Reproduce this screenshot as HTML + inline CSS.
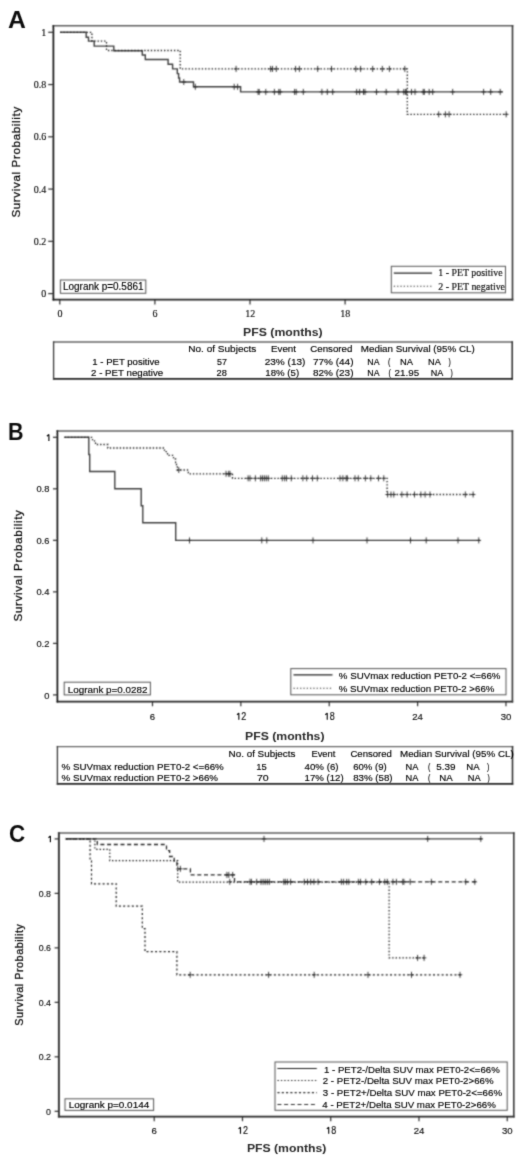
<!DOCTYPE html>
<html><head><meta charset="utf-8"><title>Kaplan-Meier survival curves</title>
<style>
html,body{margin:0;padding:0;background:#fff;}
body{width:520px;height:1164px;overflow:hidden;font-family:"Liberation Sans", sans-serif;}
svg{display:block;}
#fig{width:520px;height:1164px;}
text.t{stroke:#000;stroke-width:0.15px;}
text.h{stroke:#222;stroke-width:0.3px;}
text.b{stroke:none;}
</style></head>
<body>
<div id="fig"><svg xmlns="http://www.w3.org/2000/svg" width="520" height="1164" viewBox="0 0 520 1164">
<defs><filter id="bl" x="0" y="0" width="520" height="1164" filterUnits="userSpaceOnUse"><feConvolveMatrix order="3" kernelMatrix="1 3 1 3 9 3 1 3 1" divisor="25.0" edgeMode="duplicate" preserveAlpha="false"/></filter>
<filter id="bt" x="0" y="0" width="520" height="1164" filterUnits="userSpaceOnUse"><feConvolveMatrix order="3" kernelMatrix="1 6 1 6 36 6 1 6 1" divisor="64.0" edgeMode="duplicate" preserveAlpha="false"/></filter></defs>
<rect x="0" y="0" width="520" height="1164" fill="#fff"/>
<g filter="url(#bl)">
<line x1="52.6" y1="25.8" x2="513.3" y2="25.8" stroke="#606060" stroke-width="1.5"/>
<line x1="52.6" y1="299.6" x2="513.3" y2="299.6" stroke="#262626" stroke-width="1.9"/>
<line x1="53.4" y1="25.05" x2="53.4" y2="300.55" stroke="#111" stroke-width="1.6"/>
<line x1="512.5" y1="25.05" x2="512.5" y2="300.55" stroke="#3a3a3a" stroke-width="1.6"/>
<line x1="48.2" y1="32.3" x2="53.4" y2="32.3" stroke="#2e2e2e" stroke-width="1.2"/>
<line x1="48.2" y1="84.56" x2="53.4" y2="84.56" stroke="#2e2e2e" stroke-width="1.2"/>
<line x1="48.2" y1="136.82" x2="53.4" y2="136.82" stroke="#2e2e2e" stroke-width="1.2"/>
<line x1="48.2" y1="189.07999999999998" x2="53.4" y2="189.07999999999998" stroke="#2e2e2e" stroke-width="1.2"/>
<line x1="48.2" y1="241.33999999999997" x2="53.4" y2="241.33999999999997" stroke="#2e2e2e" stroke-width="1.2"/>
<line x1="48.2" y1="293.6" x2="53.4" y2="293.6" stroke="#2e2e2e" stroke-width="1.2"/>
<line x1="59.8" y1="299.4" x2="59.8" y2="304.4" stroke="#2e2e2e" stroke-width="1.2"/>
<line x1="154.89999999999998" y1="299.4" x2="154.89999999999998" y2="304.4" stroke="#2e2e2e" stroke-width="1.2"/>
<line x1="250.0" y1="299.4" x2="250.0" y2="304.4" stroke="#2e2e2e" stroke-width="1.2"/>
<line x1="345.09999999999997" y1="299.4" x2="345.09999999999997" y2="304.4" stroke="#2e2e2e" stroke-width="1.2"/>
<rect x="60.4" y="280.0" width="85.40" height="13.30" fill="none" stroke="#555" stroke-width="1.0"/>
<rect x="391.3" y="266.3" width="114.20" height="26.50" fill="none" stroke="#555" stroke-width="1.0"/>
<line x1="393.8" y1="273.2" x2="432.0" y2="273.2" stroke="#222" stroke-width="1.2"/>
<line x1="393.8" y1="286.2" x2="432.0" y2="286.2" stroke="#333" stroke-width="1.1" stroke-dasharray="1.3,2.0"/>
<path d="M60.1,32.3 L86.2,32.3 L86.2,37.2 L88.5,37.2 L88.5,41.1 L94.2,41.1 L94.2,46.1 L113.8,46.1 L113.8,50.7 L142.3,50.7 L142.3,55.0 L145.3,55.0 L145.3,59.5 L168.1,59.5 L168.1,64.2 L172.6,64.2 L172.6,68.9 L177.3,68.9 L177.3,73.6 L178.6,73.6 L178.6,78.0 L179.6,78.0 L179.6,82.0 L193.5,82.0 L193.5,86.8 L240.6,86.8 L240.6,91.9 L502.9,91.9" fill="none" stroke="#404040" stroke-width="1.4" stroke-linejoin="miter" stroke-linecap="butt"/>
<path d="M183.8,79.0 V85.0 M181.5,82.0 H186.1" stroke="#2a2a2a" stroke-width="0.9" fill="none"/>
<path d="M195.3,83.8 V89.8 M193.0,86.8 H197.6" stroke="#2a2a2a" stroke-width="0.9" fill="none"/>
<path d="M234.2,83.8 V89.8 M231.9,86.8 H236.5" stroke="#2a2a2a" stroke-width="0.9" fill="none"/>
<path d="M237.6,83.8 V89.8 M235.3,86.8 H239.9" stroke="#2a2a2a" stroke-width="0.9" fill="none"/>
<path d="M258.1,88.9 V94.9 M255.8,91.9 H260.4" stroke="#2a2a2a" stroke-width="0.9" fill="none"/>
<path d="M259.2,88.9 V94.9 M256.9,91.9 H261.5" stroke="#2a2a2a" stroke-width="0.9" fill="none"/>
<path d="M265.8,88.9 V94.9 M263.5,91.9 H268.1" stroke="#2a2a2a" stroke-width="0.9" fill="none"/>
<path d="M274.4,88.9 V94.9 M272.1,91.9 H276.7" stroke="#2a2a2a" stroke-width="0.9" fill="none"/>
<path d="M278.8,88.9 V94.9 M276.5,91.9 H281.1" stroke="#2a2a2a" stroke-width="0.9" fill="none"/>
<path d="M280.2,88.9 V94.9 M277.9,91.9 H282.5" stroke="#2a2a2a" stroke-width="0.9" fill="none"/>
<path d="M294.6,88.9 V94.9 M292.3,91.9 H296.9" stroke="#2a2a2a" stroke-width="0.9" fill="none"/>
<path d="M296.2,88.9 V94.9 M293.9,91.9 H298.5" stroke="#2a2a2a" stroke-width="0.9" fill="none"/>
<path d="M303.3,88.9 V94.9 M301.0,91.9 H305.6" stroke="#2a2a2a" stroke-width="0.9" fill="none"/>
<path d="M321.9,88.9 V94.9 M319.6,91.9 H324.2" stroke="#2a2a2a" stroke-width="0.9" fill="none"/>
<path d="M327.3,88.9 V94.9 M325.0,91.9 H329.6" stroke="#2a2a2a" stroke-width="0.9" fill="none"/>
<path d="M332.7,88.9 V94.9 M330.4,91.9 H335.0" stroke="#2a2a2a" stroke-width="0.9" fill="none"/>
<path d="M356.7,88.9 V94.9 M354.4,91.9 H359.0" stroke="#2a2a2a" stroke-width="0.9" fill="none"/>
<path d="M359.6,88.9 V94.9 M357.3,91.9 H361.9" stroke="#2a2a2a" stroke-width="0.9" fill="none"/>
<path d="M363.5,88.9 V94.9 M361.2,91.9 H365.8" stroke="#2a2a2a" stroke-width="0.9" fill="none"/>
<path d="M365.0,88.9 V94.9 M362.7,91.9 H367.3" stroke="#2a2a2a" stroke-width="0.9" fill="none"/>
<path d="M376.5,88.9 V94.9 M374.2,91.9 H378.8" stroke="#2a2a2a" stroke-width="0.9" fill="none"/>
<path d="M386.2,88.9 V94.9 M383.9,91.9 H388.5" stroke="#2a2a2a" stroke-width="0.9" fill="none"/>
<path d="M398.1,88.9 V94.9 M395.8,91.9 H400.4" stroke="#2a2a2a" stroke-width="0.9" fill="none"/>
<path d="M403.8,88.9 V94.9 M401.5,91.9 H406.1" stroke="#2a2a2a" stroke-width="0.9" fill="none"/>
<path d="M405.4,88.9 V94.9 M403.1,91.9 H407.7" stroke="#2a2a2a" stroke-width="0.9" fill="none"/>
<path d="M406.7,88.9 V94.9 M404.4,91.9 H409.0" stroke="#2a2a2a" stroke-width="0.9" fill="none"/>
<path d="M411.5,88.9 V94.9 M409.2,91.9 H413.8" stroke="#2a2a2a" stroke-width="0.9" fill="none"/>
<path d="M415.0,88.9 V94.9 M412.7,91.9 H417.3" stroke="#2a2a2a" stroke-width="0.9" fill="none"/>
<path d="M423.2,88.9 V94.9 M420.9,91.9 H425.5" stroke="#2a2a2a" stroke-width="0.9" fill="none"/>
<path d="M424.3,88.9 V94.9 M422.0,91.9 H426.6" stroke="#2a2a2a" stroke-width="0.9" fill="none"/>
<path d="M429.2,88.9 V94.9 M426.9,91.9 H431.5" stroke="#2a2a2a" stroke-width="0.9" fill="none"/>
<path d="M432.7,88.9 V94.9 M430.4,91.9 H435.0" stroke="#2a2a2a" stroke-width="0.9" fill="none"/>
<path d="M452.7,88.9 V94.9 M450.4,91.9 H455.0" stroke="#2a2a2a" stroke-width="0.9" fill="none"/>
<path d="M483.6,88.9 V94.9 M481.3,91.9 H485.9" stroke="#2a2a2a" stroke-width="0.9" fill="none"/>
<path d="M490.7,88.9 V94.9 M488.4,91.9 H493.0" stroke="#2a2a2a" stroke-width="0.9" fill="none"/>
<path d="M500.2,88.9 V94.9 M497.9,91.9 H502.5" stroke="#2a2a2a" stroke-width="0.9" fill="none"/>
<path d="M60.1,32.3 L91.9,32.3 L91.9,41.1 L106.5,41.1 L106.5,50.5 L180.2,50.5 L180.2,68.9 L407.3,68.9 L407.3,114.3 L507.3,114.3" fill="none" stroke="#222" stroke-width="1.3" stroke-dasharray="1.4,1.9" stroke-linejoin="miter" stroke-linecap="butt"/>
<path d="M236.1,65.9 V71.9 M233.8,68.9 H238.4" stroke="#2a2a2a" stroke-width="0.9" fill="none"/>
<path d="M270.6,65.9 V71.9 M268.3,68.9 H272.9" stroke="#2a2a2a" stroke-width="0.9" fill="none"/>
<path d="M272.5,65.9 V71.9 M270.2,68.9 H274.8" stroke="#2a2a2a" stroke-width="0.9" fill="none"/>
<path d="M276.3,65.9 V71.9 M274.0,68.9 H278.6" stroke="#2a2a2a" stroke-width="0.9" fill="none"/>
<path d="M295.6,65.9 V71.9 M293.3,68.9 H297.9" stroke="#2a2a2a" stroke-width="0.9" fill="none"/>
<path d="M299.4,65.9 V71.9 M297.1,68.9 H301.7" stroke="#2a2a2a" stroke-width="0.9" fill="none"/>
<path d="M317.7,65.9 V71.9 M315.4,68.9 H320.0" stroke="#2a2a2a" stroke-width="0.9" fill="none"/>
<path d="M331.5,65.9 V71.9 M329.2,68.9 H333.8" stroke="#2a2a2a" stroke-width="0.9" fill="none"/>
<path d="M355.8,65.9 V71.9 M353.5,68.9 H358.1" stroke="#2a2a2a" stroke-width="0.9" fill="none"/>
<path d="M360.6,65.9 V71.9 M358.3,68.9 H362.9" stroke="#2a2a2a" stroke-width="0.9" fill="none"/>
<path d="M372.7,65.9 V71.9 M370.4,68.9 H375.0" stroke="#2a2a2a" stroke-width="0.9" fill="none"/>
<path d="M382.3,65.9 V71.9 M380.0,68.9 H384.6" stroke="#2a2a2a" stroke-width="0.9" fill="none"/>
<path d="M389.4,65.9 V71.9 M387.1,68.9 H391.7" stroke="#2a2a2a" stroke-width="0.9" fill="none"/>
<path d="M404.8,65.9 V71.9 M402.5,68.9 H407.1" stroke="#2a2a2a" stroke-width="0.9" fill="none"/>
<path d="M438.7,111.3 V117.3 M436.4,114.3 H441.0" stroke="#2a2a2a" stroke-width="0.9" fill="none"/>
<path d="M445.4,111.3 V117.3 M443.1,114.3 H447.7" stroke="#2a2a2a" stroke-width="0.9" fill="none"/>
<path d="M449.1,111.3 V117.3 M446.8,114.3 H451.4" stroke="#2a2a2a" stroke-width="0.9" fill="none"/>
<path d="M506.2,111.3 V117.3 M503.9,114.3 H508.5" stroke="#2a2a2a" stroke-width="0.9" fill="none"/>
<line x1="52.95" y1="342.0" x2="512.95" y2="342.0" stroke="#666" stroke-width="1.3"/>
<line x1="52.95" y1="378.9" x2="512.95" y2="378.9" stroke="#222" stroke-width="1.6"/>
<line x1="53.6" y1="341.35" x2="53.6" y2="379.7" stroke="#3a3a3a" stroke-width="1.3"/>
<line x1="512.2" y1="341.35" x2="512.2" y2="379.7" stroke="#2a2a2a" stroke-width="1.5"/>
<line x1="56.6" y1="430.9" x2="513.1999999999999" y2="430.9" stroke="#606060" stroke-width="1.5"/>
<line x1="56.6" y1="701.6" x2="513.1999999999999" y2="701.6" stroke="#262626" stroke-width="1.9"/>
<line x1="57.4" y1="430.15" x2="57.4" y2="702.5500000000001" stroke="#111" stroke-width="1.6"/>
<line x1="512.4" y1="430.15" x2="512.4" y2="702.5500000000001" stroke="#3a3a3a" stroke-width="1.6"/>
<line x1="53.0" y1="437.3" x2="57.5" y2="437.3" stroke="#2e2e2e" stroke-width="1.2"/>
<line x1="53.0" y1="488.82" x2="57.5" y2="488.82" stroke="#2e2e2e" stroke-width="1.2"/>
<line x1="53.0" y1="540.34" x2="57.5" y2="540.34" stroke="#2e2e2e" stroke-width="1.2"/>
<line x1="53.0" y1="591.86" x2="57.5" y2="591.86" stroke="#2e2e2e" stroke-width="1.2"/>
<line x1="53.0" y1="643.38" x2="57.5" y2="643.38" stroke="#2e2e2e" stroke-width="1.2"/>
<line x1="53.0" y1="694.9000000000001" x2="57.5" y2="694.9000000000001" stroke="#2e2e2e" stroke-width="1.2"/>
<line x1="152.475" y1="701.5" x2="152.475" y2="706.3" stroke="#2e2e2e" stroke-width="1.2"/>
<line x1="240.85" y1="701.5" x2="240.85" y2="706.3" stroke="#2e2e2e" stroke-width="1.2"/>
<line x1="329.225" y1="701.5" x2="329.225" y2="706.3" stroke="#2e2e2e" stroke-width="1.2"/>
<line x1="417.6" y1="701.5" x2="417.6" y2="706.3" stroke="#2e2e2e" stroke-width="1.2"/>
<line x1="505.975" y1="701.5" x2="505.975" y2="706.3" stroke="#2e2e2e" stroke-width="1.2"/>
<rect x="64.2" y="682.2" width="86.20" height="12.70" fill="none" stroke="#555" stroke-width="1.0"/>
<rect x="290.8" y="668.6" width="215.20" height="26.20" fill="none" stroke="#555" stroke-width="1.0"/>
<line x1="293.5" y1="674.9" x2="332.5" y2="674.9" stroke="#222" stroke-width="1.2"/>
<line x1="293.5" y1="688.2" x2="332.5" y2="688.2" stroke="#333" stroke-width="1.1" stroke-dasharray="1.3,2.0"/>
<path d="M64.4,437.3 L88.8,437.3 L88.8,454.5 L89.7,454.5 L89.7,471.5 L114.8,471.5 L114.8,488.8 L141.2,488.8 L141.2,505.8 L142.8,505.8 L142.8,522.7 L175.7,522.7 L175.7,540.4 L480.0,540.4" fill="none" stroke="#404040" stroke-width="1.4" stroke-linejoin="miter" stroke-linecap="butt"/>
<path d="M189.5,537.4 V543.4 M187.2,540.4 H191.8" stroke="#2a2a2a" stroke-width="0.9" fill="none"/>
<path d="M261.8,537.4 V543.4 M259.4,540.4 H264.1" stroke="#2a2a2a" stroke-width="0.9" fill="none"/>
<path d="M266.8,537.4 V543.4 M264.4,540.4 H269.1" stroke="#2a2a2a" stroke-width="0.9" fill="none"/>
<path d="M313.0,537.4 V543.4 M310.7,540.4 H315.3" stroke="#2a2a2a" stroke-width="0.9" fill="none"/>
<path d="M367.0,537.4 V543.4 M364.7,540.4 H369.3" stroke="#2a2a2a" stroke-width="0.9" fill="none"/>
<path d="M410.5,537.4 V543.4 M408.2,540.4 H412.8" stroke="#2a2a2a" stroke-width="0.9" fill="none"/>
<path d="M426.2,537.4 V543.4 M423.9,540.4 H428.6" stroke="#2a2a2a" stroke-width="0.9" fill="none"/>
<path d="M458.0,537.4 V543.4 M455.7,540.4 H460.3" stroke="#2a2a2a" stroke-width="0.9" fill="none"/>
<path d="M478.8,537.4 V543.4 M476.4,540.4 H481.1" stroke="#2a2a2a" stroke-width="0.9" fill="none"/>
<path d="M64.4,437.3 L92.5,437.3 L92.5,440.9 L95.5,440.9 L95.5,444.5 L107.8,444.5 L107.8,448.0 L164.5,448.0 L164.5,451.7 L167.5,451.7 L167.5,455.3 L173.5,455.3 L173.5,459.0 L175.6,459.0 L175.6,462.7 L176.5,462.7 L176.5,466.3 L177.3,466.3 L177.3,470.0 L188.3,470.0 L188.3,473.8 L232.5,473.8 L232.5,478.3 L387.1,478.3 L387.1,494.5 L474.8,494.5" fill="none" stroke="#222" stroke-width="1.3" stroke-dasharray="1.4,1.9" stroke-linejoin="miter" stroke-linecap="butt"/>
<path d="M178.8,467.0 V473.0 M176.5,470.0 H181.1" stroke="#2a2a2a" stroke-width="0.9" fill="none"/>
<path d="M226.1,470.8 V476.8 M223.8,473.8 H228.4" stroke="#2a2a2a" stroke-width="0.9" fill="none"/>
<path d="M228.7,470.8 V476.8 M226.4,473.8 H231.0" stroke="#2a2a2a" stroke-width="0.9" fill="none"/>
<path d="M230.0,470.8 V476.8 M227.7,473.8 H232.3" stroke="#2a2a2a" stroke-width="0.9" fill="none"/>
<path d="M248.1,475.3 V481.3 M245.8,478.3 H250.4" stroke="#2a2a2a" stroke-width="0.9" fill="none"/>
<path d="M250.0,475.3 V481.3 M247.7,478.3 H252.3" stroke="#2a2a2a" stroke-width="0.9" fill="none"/>
<path d="M255.4,475.3 V481.3 M253.1,478.3 H257.7" stroke="#2a2a2a" stroke-width="0.9" fill="none"/>
<path d="M260.6,475.3 V481.3 M258.3,478.3 H262.9" stroke="#2a2a2a" stroke-width="0.9" fill="none"/>
<path d="M262.5,475.3 V481.3 M260.2,478.3 H264.8" stroke="#2a2a2a" stroke-width="0.9" fill="none"/>
<path d="M264.4,475.3 V481.3 M262.1,478.3 H266.7" stroke="#2a2a2a" stroke-width="0.9" fill="none"/>
<path d="M266.3,475.3 V481.3 M264.0,478.3 H268.6" stroke="#2a2a2a" stroke-width="0.9" fill="none"/>
<path d="M268.3,475.3 V481.3 M266.0,478.3 H270.6" stroke="#2a2a2a" stroke-width="0.9" fill="none"/>
<path d="M282.3,475.3 V481.3 M280.0,478.3 H284.6" stroke="#2a2a2a" stroke-width="0.9" fill="none"/>
<path d="M284.6,475.3 V481.3 M282.3,478.3 H286.9" stroke="#2a2a2a" stroke-width="0.9" fill="none"/>
<path d="M286.5,475.3 V481.3 M284.2,478.3 H288.8" stroke="#2a2a2a" stroke-width="0.9" fill="none"/>
<path d="M291.3,475.3 V481.3 M289.0,478.3 H293.6" stroke="#2a2a2a" stroke-width="0.9" fill="none"/>
<path d="M302.9,475.3 V481.3 M300.6,478.3 H305.2" stroke="#2a2a2a" stroke-width="0.9" fill="none"/>
<path d="M306.7,475.3 V481.3 M304.4,478.3 H309.0" stroke="#2a2a2a" stroke-width="0.9" fill="none"/>
<path d="M312.5,475.3 V481.3 M310.2,478.3 H314.8" stroke="#2a2a2a" stroke-width="0.9" fill="none"/>
<path d="M317.3,475.3 V481.3 M315.0,478.3 H319.6" stroke="#2a2a2a" stroke-width="0.9" fill="none"/>
<path d="M340.0,475.3 V481.3 M337.7,478.3 H342.3" stroke="#2a2a2a" stroke-width="0.9" fill="none"/>
<path d="M342.9,475.3 V481.3 M340.6,478.3 H345.2" stroke="#2a2a2a" stroke-width="0.9" fill="none"/>
<path d="M346.2,475.3 V481.3 M343.9,478.3 H348.5" stroke="#2a2a2a" stroke-width="0.9" fill="none"/>
<path d="M347.3,475.3 V481.3 M345.0,478.3 H349.6" stroke="#2a2a2a" stroke-width="0.9" fill="none"/>
<path d="M355.0,475.3 V481.3 M352.7,478.3 H357.3" stroke="#2a2a2a" stroke-width="0.9" fill="none"/>
<path d="M358.3,475.3 V481.3 M356.0,478.3 H360.6" stroke="#2a2a2a" stroke-width="0.9" fill="none"/>
<path d="M365.4,475.3 V481.3 M363.1,478.3 H367.7" stroke="#2a2a2a" stroke-width="0.9" fill="none"/>
<path d="M370.8,475.3 V481.3 M368.5,478.3 H373.1" stroke="#2a2a2a" stroke-width="0.9" fill="none"/>
<path d="M378.5,475.3 V481.3 M376.2,478.3 H380.8" stroke="#2a2a2a" stroke-width="0.9" fill="none"/>
<path d="M383.8,475.3 V481.3 M381.5,478.3 H386.1" stroke="#2a2a2a" stroke-width="0.9" fill="none"/>
<path d="M387.7,491.5 V497.5 M385.4,494.5 H390.0" stroke="#2a2a2a" stroke-width="0.9" fill="none"/>
<path d="M391.0,491.5 V497.5 M388.7,494.5 H393.3" stroke="#2a2a2a" stroke-width="0.9" fill="none"/>
<path d="M393.8,491.5 V497.5 M391.5,494.5 H396.1" stroke="#2a2a2a" stroke-width="0.9" fill="none"/>
<path d="M401.9,491.5 V497.5 M399.6,494.5 H404.2" stroke="#2a2a2a" stroke-width="0.9" fill="none"/>
<path d="M407.1,491.5 V497.5 M404.8,494.5 H409.4" stroke="#2a2a2a" stroke-width="0.9" fill="none"/>
<path d="M414.5,491.5 V497.5 M412.2,494.5 H416.8" stroke="#2a2a2a" stroke-width="0.9" fill="none"/>
<path d="M420.9,491.5 V497.5 M418.6,494.5 H423.2" stroke="#2a2a2a" stroke-width="0.9" fill="none"/>
<path d="M425.1,491.5 V497.5 M422.8,494.5 H427.4" stroke="#2a2a2a" stroke-width="0.9" fill="none"/>
<path d="M430.0,491.5 V497.5 M427.7,494.5 H432.3" stroke="#2a2a2a" stroke-width="0.9" fill="none"/>
<path d="M465.3,491.5 V497.5 M463.0,494.5 H467.6" stroke="#2a2a2a" stroke-width="0.9" fill="none"/>
<path d="M473.1,491.5 V497.5 M470.8,494.5 H475.4" stroke="#2a2a2a" stroke-width="0.9" fill="none"/>
<line x1="56.75" y1="746.6" x2="513.25" y2="746.6" stroke="#666" stroke-width="1.3"/>
<line x1="56.75" y1="783.9" x2="513.25" y2="783.9" stroke="#222" stroke-width="1.6"/>
<line x1="57.4" y1="745.95" x2="57.4" y2="784.6999999999999" stroke="#3a3a3a" stroke-width="1.3"/>
<line x1="512.5" y1="745.95" x2="512.5" y2="784.6999999999999" stroke="#2a2a2a" stroke-width="1.5"/>
<line x1="57.9" y1="832.9" x2="514.5999999999999" y2="832.9" stroke="#606060" stroke-width="1.5"/>
<line x1="57.9" y1="1116.6" x2="514.5999999999999" y2="1116.6" stroke="#262626" stroke-width="1.9"/>
<line x1="58.9" y1="832.15" x2="58.9" y2="1117.55" stroke="#3a3a3a" stroke-width="2.0"/>
<line x1="513.8" y1="832.15" x2="513.8" y2="1117.55" stroke="#3a3a3a" stroke-width="1.6"/>
<line x1="54.6" y1="838.9" x2="58.8" y2="838.9" stroke="#2e2e2e" stroke-width="1.2"/>
<line x1="54.6" y1="893.38" x2="58.8" y2="893.38" stroke="#2e2e2e" stroke-width="1.2"/>
<line x1="54.6" y1="947.86" x2="58.8" y2="947.86" stroke="#2e2e2e" stroke-width="1.2"/>
<line x1="54.6" y1="1002.3399999999999" x2="58.8" y2="1002.3399999999999" stroke="#2e2e2e" stroke-width="1.2"/>
<line x1="54.6" y1="1056.82" x2="58.8" y2="1056.82" stroke="#2e2e2e" stroke-width="1.2"/>
<line x1="54.6" y1="1111.3" x2="58.8" y2="1111.3" stroke="#2e2e2e" stroke-width="1.2"/>
<line x1="154.21" y1="1116.5" x2="154.21" y2="1121.2" stroke="#2e2e2e" stroke-width="1.2"/>
<line x1="242.47000000000003" y1="1116.5" x2="242.47000000000003" y2="1121.2" stroke="#2e2e2e" stroke-width="1.2"/>
<line x1="330.73" y1="1116.5" x2="330.73" y2="1121.2" stroke="#2e2e2e" stroke-width="1.2"/>
<line x1="418.99" y1="1116.5" x2="418.99" y2="1121.2" stroke="#2e2e2e" stroke-width="1.2"/>
<line x1="507.25" y1="1116.5" x2="507.25" y2="1121.2" stroke="#2e2e2e" stroke-width="1.2"/>
<rect x="65.0" y="1098.8" width="88.60" height="11.60" fill="none" stroke="#555" stroke-width="1.0"/>
<rect x="275.0" y="1062.0" width="232.20" height="48.30" fill="none" stroke="#555" stroke-width="1.0"/>
<line x1="277.4" y1="1068.5" x2="316.8" y2="1068.5" stroke="#222" stroke-width="1.2"/>
<line x1="277.4" y1="1080.5" x2="316.8" y2="1080.5" stroke="#333" stroke-width="1.1" stroke-dasharray="1.5,1.9"/>
<line x1="277.4" y1="1092.6" x2="316.8" y2="1092.6" stroke="#333" stroke-width="1.1" stroke-dasharray="2.2,2.1"/>
<line x1="277.4" y1="1104.5" x2="316.8" y2="1104.5" stroke="#333" stroke-width="1.2" stroke-dasharray="4,2.7"/>
<path d="M65.8,838.9 L482.3,838.9" fill="none" stroke="#404040" stroke-width="1.4" stroke-linejoin="miter" stroke-linecap="butt"/>
<path d="M264.0,835.9 V841.9 M261.7,838.9 H266.3" stroke="#2a2a2a" stroke-width="0.9" fill="none"/>
<path d="M427.7,835.9 V841.9 M425.4,838.9 H430.0" stroke="#2a2a2a" stroke-width="0.9" fill="none"/>
<path d="M480.8,835.9 V841.9 M478.5,838.9 H483.1" stroke="#2a2a2a" stroke-width="0.9" fill="none"/>
<path d="M65.8,838.9 L90.1,838.9 L90.1,861.0 L91.5,861.0 L91.5,883.8 L116.2,883.8 L116.2,906.2 L142.3,906.2 L142.3,928.7 L145.0,928.7 L145.0,951.7 L176.9,951.7 L176.9,974.8 L461.8,974.8" fill="none" stroke="#222" stroke-width="1.2" stroke-dasharray="2.0,2.3" stroke-linejoin="miter" stroke-linecap="butt"/>
<path d="M190.2,971.8 V977.8 M187.9,974.8 H192.5" stroke="#2a2a2a" stroke-width="0.9" fill="none"/>
<path d="M268.6,971.8 V977.8 M266.3,974.8 H270.9" stroke="#2a2a2a" stroke-width="0.9" fill="none"/>
<path d="M314.2,971.8 V977.8 M311.9,974.8 H316.5" stroke="#2a2a2a" stroke-width="0.9" fill="none"/>
<path d="M368.0,971.8 V977.8 M365.7,974.8 H370.3" stroke="#2a2a2a" stroke-width="0.9" fill="none"/>
<path d="M411.5,971.8 V977.8 M409.2,974.8 H413.8" stroke="#2a2a2a" stroke-width="0.9" fill="none"/>
<path d="M460.0,971.8 V977.8 M457.7,974.8 H462.3" stroke="#2a2a2a" stroke-width="0.9" fill="none"/>
<path d="M65.8,838.9 L94.9,838.9 L94.9,849.3 L109.8,849.3 L109.8,860.7 L177.7,860.7 L177.7,882.2 L389.1,882.2 L389.1,957.9 L425.4,957.9" fill="none" stroke="#1a1a1a" stroke-width="1.2" stroke-dasharray="1.4,2.0" stroke-linejoin="miter" stroke-linecap="butt"/>
<path d="M417.6,954.9 V960.9 M415.3,957.9 H419.9" stroke="#2a2a2a" stroke-width="0.9" fill="none"/>
<path d="M424.1,954.9 V960.9 M421.8,957.9 H426.4" stroke="#2a2a2a" stroke-width="0.9" fill="none"/>
<path d="M65.8,838.9 L97.3,838.9 L97.3,844.5 L166.5,844.5 L166.5,850.7 L169.6,850.7 L169.6,856.5 L174.2,856.5 L174.2,862.2 L176.9,862.2 L176.9,868.8 L190.4,868.8 L190.4,874.9 L234.5,874.9 L234.5,881.8 L476.0,881.8" fill="none" stroke="#2a2a2a" stroke-width="1.3" stroke-dasharray="4,2.7" stroke-linejoin="miter" stroke-linecap="butt"/>
<path d="M180.4,865.8 V871.8 M178.1,868.8 H182.7" stroke="#2a2a2a" stroke-width="0.9" fill="none"/>
<path d="M226.9,871.9 V877.9 M224.6,874.9 H229.2" stroke="#2a2a2a" stroke-width="0.9" fill="none"/>
<path d="M228.8,871.9 V877.9 M226.5,874.9 H231.1" stroke="#2a2a2a" stroke-width="0.9" fill="none"/>
<path d="M232.7,871.9 V877.9 M230.4,874.9 H235.0" stroke="#2a2a2a" stroke-width="0.9" fill="none"/>
<path d="M229.8,878.8 V884.8 M227.5,881.8 H232.1" stroke="#2a2a2a" stroke-width="0.9" fill="none"/>
<path d="M250.0,878.8 V884.8 M247.7,881.8 H252.3" stroke="#2a2a2a" stroke-width="0.9" fill="none"/>
<path d="M251.4,878.8 V884.8 M249.1,881.8 H253.7" stroke="#2a2a2a" stroke-width="0.9" fill="none"/>
<path d="M256.7,878.8 V884.8 M254.4,881.8 H259.0" stroke="#2a2a2a" stroke-width="0.9" fill="none"/>
<path d="M261.0,878.8 V884.8 M258.7,881.8 H263.3" stroke="#2a2a2a" stroke-width="0.9" fill="none"/>
<path d="M263.1,878.8 V884.8 M260.8,881.8 H265.4" stroke="#2a2a2a" stroke-width="0.9" fill="none"/>
<path d="M265.2,878.8 V884.8 M262.9,881.8 H267.5" stroke="#2a2a2a" stroke-width="0.9" fill="none"/>
<path d="M267.3,878.8 V884.8 M265.0,881.8 H269.6" stroke="#2a2a2a" stroke-width="0.9" fill="none"/>
<path d="M269.4,878.8 V884.8 M267.1,881.8 H271.7" stroke="#2a2a2a" stroke-width="0.9" fill="none"/>
<path d="M283.8,878.8 V884.8 M281.5,881.8 H286.1" stroke="#2a2a2a" stroke-width="0.9" fill="none"/>
<path d="M285.3,878.8 V884.8 M283.0,881.8 H287.6" stroke="#2a2a2a" stroke-width="0.9" fill="none"/>
<path d="M287.4,878.8 V884.8 M285.1,881.8 H289.7" stroke="#2a2a2a" stroke-width="0.9" fill="none"/>
<path d="M290.6,878.8 V884.8 M288.3,881.8 H292.9" stroke="#2a2a2a" stroke-width="0.9" fill="none"/>
<path d="M304.3,878.8 V884.8 M302.0,881.8 H306.6" stroke="#2a2a2a" stroke-width="0.9" fill="none"/>
<path d="M307.5,878.8 V884.8 M305.2,881.8 H309.8" stroke="#2a2a2a" stroke-width="0.9" fill="none"/>
<path d="M310.7,878.8 V884.8 M308.4,881.8 H313.0" stroke="#2a2a2a" stroke-width="0.9" fill="none"/>
<path d="M313.9,878.8 V884.8 M311.6,881.8 H316.2" stroke="#2a2a2a" stroke-width="0.9" fill="none"/>
<path d="M318.1,878.8 V884.8 M315.8,881.8 H320.4" stroke="#2a2a2a" stroke-width="0.9" fill="none"/>
<path d="M341.4,878.8 V884.8 M339.1,881.8 H343.7" stroke="#2a2a2a" stroke-width="0.9" fill="none"/>
<path d="M343.6,878.8 V884.8 M341.3,881.8 H345.9" stroke="#2a2a2a" stroke-width="0.9" fill="none"/>
<path d="M346.7,878.8 V884.8 M344.4,881.8 H349.0" stroke="#2a2a2a" stroke-width="0.9" fill="none"/>
<path d="M348.8,878.8 V884.8 M346.5,881.8 H351.1" stroke="#2a2a2a" stroke-width="0.9" fill="none"/>
<path d="M358.4,878.8 V884.8 M356.1,881.8 H360.7" stroke="#2a2a2a" stroke-width="0.9" fill="none"/>
<path d="M360.5,878.8 V884.8 M358.2,881.8 H362.8" stroke="#2a2a2a" stroke-width="0.9" fill="none"/>
<path d="M365.8,878.8 V884.8 M363.5,881.8 H368.1" stroke="#2a2a2a" stroke-width="0.9" fill="none"/>
<path d="M371.7,878.8 V884.8 M369.4,881.8 H374.0" stroke="#2a2a2a" stroke-width="0.9" fill="none"/>
<path d="M379.5,878.8 V884.8 M377.2,881.8 H381.8" stroke="#2a2a2a" stroke-width="0.9" fill="none"/>
<path d="M384.8,878.8 V884.8 M382.5,881.8 H387.1" stroke="#2a2a2a" stroke-width="0.9" fill="none"/>
<path d="M387.3,878.8 V884.8 M385.0,881.8 H389.6" stroke="#2a2a2a" stroke-width="0.9" fill="none"/>
<path d="M392.9,878.8 V884.8 M390.6,881.8 H395.2" stroke="#2a2a2a" stroke-width="0.9" fill="none"/>
<path d="M396.4,878.8 V884.8 M394.1,881.8 H398.7" stroke="#2a2a2a" stroke-width="0.9" fill="none"/>
<path d="M402.8,878.8 V884.8 M400.5,881.8 H405.1" stroke="#2a2a2a" stroke-width="0.9" fill="none"/>
<path d="M403.9,878.8 V884.8 M401.6,881.8 H406.2" stroke="#2a2a2a" stroke-width="0.9" fill="none"/>
<path d="M410.2,878.8 V884.8 M407.9,881.8 H412.5" stroke="#2a2a2a" stroke-width="0.9" fill="none"/>
<path d="M431.4,878.8 V884.8 M429.1,881.8 H433.7" stroke="#2a2a2a" stroke-width="0.9" fill="none"/>
<path d="M465.7,878.8 V884.8 M463.4,881.8 H468.0" stroke="#2a2a2a" stroke-width="0.9" fill="none"/>
<path d="M474.8,878.8 V884.8 M472.5,881.8 H477.1" stroke="#2a2a2a" stroke-width="0.9" fill="none"/>
</g>
<g filter="url(#bt)">
<text x="8.10" y="27.5" font-family='"Liberation Sans", sans-serif' font-size="24.3" font-weight="bold" fill="#111" textLength="17.85" lengthAdjust="spacingAndGlyphs" class="b" >A</text>
<text x="46.3" y="35.8" font-family='"Liberation Serif", serif' font-size="10" font-weight="normal" text-anchor="end" fill="#1a1a1a" class="t" >1</text>
<text x="46.3" y="88.06" font-family='"Liberation Serif", serif' font-size="10" font-weight="normal" text-anchor="end" fill="#1a1a1a" class="t" >0.8</text>
<text x="46.3" y="140.32" font-family='"Liberation Serif", serif' font-size="10" font-weight="normal" text-anchor="end" fill="#1a1a1a" class="t" >0.6</text>
<text x="46.3" y="192.57999999999998" font-family='"Liberation Serif", serif' font-size="10" font-weight="normal" text-anchor="end" fill="#1a1a1a" class="t" >0.4</text>
<text x="46.3" y="244.83999999999997" font-family='"Liberation Serif", serif' font-size="10" font-weight="normal" text-anchor="end" fill="#1a1a1a" class="t" >0.2</text>
<text x="46.3" y="297.1" font-family='"Liberation Serif", serif' font-size="10" font-weight="normal" text-anchor="end" fill="#1a1a1a" class="t" >0</text>
<text x="60.0" y="317.0" font-family='"Liberation Serif", serif' font-size="10" font-weight="normal" text-anchor="middle" fill="#1a1a1a" class="t" >0</text>
<text x="155.09999999999997" y="317.0" font-family='"Liberation Serif", serif' font-size="10" font-weight="normal" text-anchor="middle" fill="#1a1a1a" class="t" >6</text>
<text x="250.2" y="317.0" font-family='"Liberation Serif", serif' font-size="10" font-weight="normal" text-anchor="middle" fill="#1a1a1a" class="t" >12</text>
<text x="345.29999999999995" y="317.0" font-family='"Liberation Serif", serif' font-size="10" font-weight="normal" text-anchor="middle" fill="#1a1a1a" class="t" >18</text>
<g transform="translate(20.3,217.6) rotate(-90)"><text x="0.00" y="0" font-family='"Liberation Sans", sans-serif' font-size="11.6" font-weight="normal" fill="#000" textLength="110.79" lengthAdjust="spacing" class="h" >Survival Probability</text></g>
<text x="243.10" y="336.2" font-family='"Liberation Sans", sans-serif' font-size="11.2" font-weight="bold" fill="#2a2a2a" textLength="79.60" lengthAdjust="spacingAndGlyphs" class="b" >PFS (months)</text>
<text x="63.00" y="290.4" font-family='"Liberation Sans", sans-serif' font-size="10" font-weight="normal" fill="#000" textLength="80.51" lengthAdjust="spacingAndGlyphs" class="t" >Logrank p=0.5861</text>
<text x="438.30" y="276.3" font-family='"Liberation Serif", serif' font-size="10" font-weight="normal" fill="#111" textLength="64.29" lengthAdjust="spacingAndGlyphs" class="t" >1 - PET positive</text>
<text x="438.30" y="289.7" font-family='"Liberation Serif", serif' font-size="10" font-weight="normal" fill="#111" textLength="66.70" lengthAdjust="spacingAndGlyphs" class="t" >2 - PET negative</text>
<text x="188.30" y="352.1" font-family='"Liberation Sans", sans-serif' font-size="9.2" font-weight="normal" fill="#000" textLength="68.01" lengthAdjust="spacingAndGlyphs" class="t" >No. of Subjects</text>
<text x="271.00" y="352.1" font-family='"Liberation Sans", sans-serif' font-size="9.2" font-weight="normal" fill="#000" textLength="25.02" lengthAdjust="spacingAndGlyphs" class="t" >Event</text>
<text x="310.30" y="352.1" font-family='"Liberation Sans", sans-serif' font-size="9.2" font-weight="normal" fill="#000" textLength="42.11" lengthAdjust="spacingAndGlyphs" class="t" >Censored</text>
<text x="360.80" y="352.1" font-family='"Liberation Sans", sans-serif' font-size="9.2" font-weight="normal" fill="#000" textLength="114.01" lengthAdjust="spacingAndGlyphs" class="t" >Median Survival (95% CL)</text>
<text x="92.30" y="364.5" font-family='"Liberation Sans", sans-serif' font-size="9.2" font-weight="normal" fill="#000" textLength="67.40" lengthAdjust="spacingAndGlyphs" class="t" >1 - PET positive</text>
<text x="91.10" y="376.3" font-family='"Liberation Sans", sans-serif' font-size="9.2" font-weight="normal" fill="#000" textLength="72.10" lengthAdjust="spacingAndGlyphs" class="t" >2 - PET negative</text>
<text x="217.00" y="364.5" font-family='"Liberation Sans", sans-serif' font-size="9.2" font-weight="normal" fill="#000" textLength="9.92" lengthAdjust="spacingAndGlyphs" class="t" >57</text>
<text x="216.60" y="376.3" font-family='"Liberation Sans", sans-serif' font-size="9.2" font-weight="normal" fill="#000" textLength="10.32" lengthAdjust="spacingAndGlyphs" class="t" >28</text>
<text x="264.70" y="364.5" font-family='"Liberation Sans", sans-serif' font-size="9.2" font-weight="normal" fill="#000" textLength="40.78" lengthAdjust="spacingAndGlyphs" class="t" >23% (13)</text>
<text x="265.30" y="376.3" font-family='"Liberation Sans", sans-serif' font-size="9.2" font-weight="normal" fill="#000" textLength="33.82" lengthAdjust="spacingAndGlyphs" class="t" >18% (5)</text>
<text x="312.90" y="364.5" font-family='"Liberation Sans", sans-serif' font-size="9.2" font-weight="normal" fill="#000" textLength="40.58" lengthAdjust="spacingAndGlyphs" class="t" >77% (44)</text>
<text x="312.90" y="376.3" font-family='"Liberation Sans", sans-serif' font-size="9.2" font-weight="normal" fill="#000" textLength="40.58" lengthAdjust="spacingAndGlyphs" class="t" >82% (23)</text>
<text x="367.30" y="364.5" font-family='"Liberation Sans", sans-serif' font-size="9.2" font-weight="normal" fill="#000" textLength="12.19" lengthAdjust="spacingAndGlyphs" class="t" >NA</text>
<text x="367.30" y="376.3" font-family='"Liberation Sans", sans-serif' font-size="9.2" font-weight="normal" fill="#000" textLength="12.19" lengthAdjust="spacingAndGlyphs" class="t" >NA</text>
<text x="388.00" y="364.5" font-family='"Liberation Sans", sans-serif' font-size="9.2" font-weight="normal" fill="#000" textLength="2.39" lengthAdjust="spacingAndGlyphs" class="t" >(</text>
<text x="400.00" y="364.5" font-family='"Liberation Sans", sans-serif' font-size="9.2" font-weight="normal" fill="#000" textLength="12.99" lengthAdjust="spacingAndGlyphs" class="t" >NA</text>
<text x="428.00" y="364.5" font-family='"Liberation Sans", sans-serif' font-size="9.2" font-weight="normal" fill="#000" textLength="12.79" lengthAdjust="spacingAndGlyphs" class="t" >NA</text>
<text x="448.50" y="364.5" font-family='"Liberation Sans", sans-serif' font-size="9.2" font-weight="normal" fill="#000" textLength="2.29" lengthAdjust="spacingAndGlyphs" class="t" >)</text>
<text x="388.50" y="376.3" font-family='"Liberation Sans", sans-serif' font-size="9.2" font-weight="normal" fill="#000" textLength="2.39" lengthAdjust="spacingAndGlyphs" class="t" >(</text>
<text x="394.60" y="376.3" font-family='"Liberation Sans", sans-serif' font-size="9.2" font-weight="normal" fill="#000" textLength="24.58" lengthAdjust="spacingAndGlyphs" class="t" >21.95</text>
<text x="430.80" y="376.3" font-family='"Liberation Sans", sans-serif' font-size="9.2" font-weight="normal" fill="#000" textLength="12.59" lengthAdjust="spacingAndGlyphs" class="t" >NA</text>
<text x="450.40" y="376.3" font-family='"Liberation Sans", sans-serif' font-size="9.2" font-weight="normal" fill="#000" textLength="2.29" lengthAdjust="spacingAndGlyphs" class="t" >)</text>
<text x="8.10" y="439.6" font-family='"Liberation Sans", sans-serif' font-size="24.8" font-weight="bold" fill="#111" textLength="15.55" lengthAdjust="spacingAndGlyphs" class="b" >B</text>
<path d="M48.90,440.90 V434.40 L46.90,436.20" stroke="#1a1a1a" stroke-width="1.2" fill="none" stroke-linejoin="bevel" stroke-linecap="butt"/>
<text x="49.4" y="492.42" font-family='"Liberation Sans", sans-serif' font-size="9.3" font-weight="normal" text-anchor="end" fill="#1a1a1a" class="t" >0.8</text>
<text x="49.4" y="543.94" font-family='"Liberation Sans", sans-serif' font-size="9.3" font-weight="normal" text-anchor="end" fill="#1a1a1a" class="t" >0.6</text>
<text x="49.4" y="595.46" font-family='"Liberation Sans", sans-serif' font-size="9.3" font-weight="normal" text-anchor="end" fill="#1a1a1a" class="t" >0.4</text>
<text x="49.4" y="646.98" font-family='"Liberation Sans", sans-serif' font-size="9.3" font-weight="normal" text-anchor="end" fill="#1a1a1a" class="t" >0.2</text>
<text x="49.4" y="698.5000000000001" font-family='"Liberation Sans", sans-serif' font-size="9.3" font-weight="normal" text-anchor="end" fill="#1a1a1a" class="t" >0</text>
<text x="152.475" y="719.7" font-family='"Liberation Sans", sans-serif' font-size="9.6" font-weight="normal" text-anchor="middle" fill="#1a1a1a" class="t" >6</text>
<path d="M238.85,719.70 V713.10 L236.95,714.80" stroke="#1a1a1a" stroke-width="1.2" fill="none" stroke-linejoin="bevel" stroke-linecap="butt"/>
<text x="241.35" y="719.7" font-family='"Liberation Sans", sans-serif' font-size="10" font-weight="normal" fill="#1a1a1a" textLength="5.01" lengthAdjust="spacingAndGlyphs" class="t" >2</text>
<path d="M327.23,719.70 V713.10 L325.33,714.80" stroke="#1a1a1a" stroke-width="1.2" fill="none" stroke-linejoin="bevel" stroke-linecap="butt"/>
<text x="329.73" y="719.7" font-family='"Liberation Sans", sans-serif' font-size="10" font-weight="normal" fill="#1a1a1a" textLength="5.01" lengthAdjust="spacingAndGlyphs" class="t" >8</text>
<text x="417.6" y="719.7" font-family='"Liberation Sans", sans-serif' font-size="9.6" font-weight="normal" text-anchor="middle" fill="#1a1a1a" class="t" >24</text>
<text x="505.975" y="719.7" font-family='"Liberation Sans", sans-serif' font-size="9.6" font-weight="normal" text-anchor="middle" fill="#1a1a1a" class="t" >30</text>
<g transform="translate(21.6,621.4) rotate(-90)"><text x="0.00" y="0" font-family='"Liberation Sans", sans-serif' font-size="11.6" font-weight="normal" fill="#000" textLength="111.29" lengthAdjust="spacing" class="h" >Survival Probability</text></g>
<text x="245.00" y="739.8" font-family='"Liberation Sans", sans-serif' font-size="11.2" font-weight="bold" fill="#2a2a2a" textLength="79.50" lengthAdjust="spacingAndGlyphs" class="b" >PFS (months)</text>
<text x="67.70" y="693.0" font-family='"Liberation Sans", sans-serif' font-size="9.8" font-weight="normal" fill="#000" textLength="79.81" lengthAdjust="spacingAndGlyphs" class="t" >Logrank p=0.0282</text>
<text x="338.80" y="679.2" font-family='"Liberation Sans", sans-serif' font-size="9.2" font-weight="normal" fill="#000" textLength="161.70" lengthAdjust="spacingAndGlyphs" class="t" >% SUVmax reduction PET0-2 &lt;=66%</text>
<text x="338.80" y="692.2" font-family='"Liberation Sans", sans-serif' font-size="9.2" font-weight="normal" fill="#000" textLength="155.61" lengthAdjust="spacingAndGlyphs" class="t" >% SUVmax reduction PET0-2 &gt;66%</text>
<text x="228.60" y="757.0" font-family='"Liberation Sans", sans-serif' font-size="9.2" font-weight="normal" fill="#000" textLength="66.81" lengthAdjust="spacingAndGlyphs" class="t" >No. of Subjects</text>
<text x="311.40" y="757.0" font-family='"Liberation Sans", sans-serif' font-size="9.2" font-weight="normal" fill="#000" textLength="24.02" lengthAdjust="spacingAndGlyphs" class="t" >Event</text>
<text x="350.40" y="757.0" font-family='"Liberation Sans", sans-serif' font-size="9.2" font-weight="normal" fill="#000" textLength="41.51" lengthAdjust="spacingAndGlyphs" class="t" >Censored</text>
<text x="400.00" y="757.0" font-family='"Liberation Sans", sans-serif' font-size="9.2" font-weight="normal" fill="#000" textLength="113.71" lengthAdjust="spacingAndGlyphs" class="t" >Median Survival (95% CL)</text>
<text x="61.50" y="769.5" font-family='"Liberation Sans", sans-serif' font-size="9.2" font-weight="normal" fill="#000" textLength="162.30" lengthAdjust="spacingAndGlyphs" class="t" >% SUVmax reduction PET0-2 &lt;=66%</text>
<text x="61.50" y="781.4" font-family='"Liberation Sans", sans-serif' font-size="9.2" font-weight="normal" fill="#000" textLength="156.51" lengthAdjust="spacingAndGlyphs" class="t" >% SUVmax reduction PET0-2 &gt;66%</text>
<text x="256.30" y="769.5" font-family='"Liberation Sans", sans-serif' font-size="9.2" font-weight="normal" fill="#000" textLength="10.52" lengthAdjust="spacingAndGlyphs" class="t" >15</text>
<text x="256.90" y="781.4" font-family='"Liberation Sans", sans-serif' font-size="9.2" font-weight="normal" fill="#000" textLength="11.72" lengthAdjust="spacingAndGlyphs" class="t" >70</text>
<text x="304.60" y="769.5" font-family='"Liberation Sans", sans-serif' font-size="9.2" font-weight="normal" fill="#000" textLength="33.92" lengthAdjust="spacingAndGlyphs" class="t" >40% (6)</text>
<text x="304.60" y="781.4" font-family='"Liberation Sans", sans-serif' font-size="9.2" font-weight="normal" fill="#000" textLength="39.08" lengthAdjust="spacingAndGlyphs" class="t" >17% (12)</text>
<text x="353.20" y="769.5" font-family='"Liberation Sans", sans-serif' font-size="9.2" font-weight="normal" fill="#000" textLength="33.51" lengthAdjust="spacingAndGlyphs" class="t" >60% (9)</text>
<text x="353.20" y="781.4" font-family='"Liberation Sans", sans-serif' font-size="9.2" font-weight="normal" fill="#000" textLength="39.38" lengthAdjust="spacingAndGlyphs" class="t" >83% (58)</text>
<text x="405.60" y="769.5" font-family='"Liberation Sans", sans-serif' font-size="9.2" font-weight="normal" fill="#000" textLength="12.89" lengthAdjust="spacingAndGlyphs" class="t" >NA</text>
<text x="405.60" y="781.4" font-family='"Liberation Sans", sans-serif' font-size="9.2" font-weight="normal" fill="#000" textLength="12.89" lengthAdjust="spacingAndGlyphs" class="t" >NA</text>
<text x="428.10" y="769.5" font-family='"Liberation Sans", sans-serif' font-size="9.2" font-weight="normal" fill="#000" textLength="2.39" lengthAdjust="spacingAndGlyphs" class="t" >(</text>
<text x="428.10" y="781.4" font-family='"Liberation Sans", sans-serif' font-size="9.2" font-weight="normal" fill="#000" textLength="2.39" lengthAdjust="spacingAndGlyphs" class="t" >(</text>
<text x="436.30" y="769.5" font-family='"Liberation Sans", sans-serif' font-size="9.2" font-weight="normal" fill="#000" textLength="19.31" lengthAdjust="spacingAndGlyphs" class="t" >5.39</text>
<text x="466.20" y="769.5" font-family='"Liberation Sans", sans-serif' font-size="9.2" font-weight="normal" fill="#000" textLength="13.39" lengthAdjust="spacingAndGlyphs" class="t" >NA</text>
<text x="486.90" y="769.5" font-family='"Liberation Sans", sans-serif' font-size="9.2" font-weight="normal" fill="#000" textLength="2.29" lengthAdjust="spacingAndGlyphs" class="t" >)</text>
<text x="439.20" y="781.4" font-family='"Liberation Sans", sans-serif' font-size="9.2" font-weight="normal" fill="#000" textLength="13.49" lengthAdjust="spacingAndGlyphs" class="t" >NA</text>
<text x="467.70" y="781.4" font-family='"Liberation Sans", sans-serif' font-size="9.2" font-weight="normal" fill="#000" textLength="12.89" lengthAdjust="spacingAndGlyphs" class="t" >NA</text>
<text x="487.60" y="781.4" font-family='"Liberation Sans", sans-serif' font-size="9.2" font-weight="normal" fill="#000" textLength="2.29" lengthAdjust="spacingAndGlyphs" class="t" >)</text>
<text x="9.10" y="841.9" font-family='"Liberation Sans", sans-serif' font-size="24.8" font-weight="bold" fill="#111" textLength="16.15" lengthAdjust="spacingAndGlyphs" class="b" >C</text>
<path d="M50.40,842.30 V836.00 L48.50,837.70" stroke="#1a1a1a" stroke-width="1.2" fill="none" stroke-linejoin="bevel" stroke-linecap="butt"/>
<text x="51.0" y="896.78" font-family='"Liberation Sans", sans-serif' font-size="8.8" font-weight="normal" text-anchor="end" fill="#1a1a1a" class="t" >0.8</text>
<text x="51.0" y="951.26" font-family='"Liberation Sans", sans-serif' font-size="8.8" font-weight="normal" text-anchor="end" fill="#1a1a1a" class="t" >0.6</text>
<text x="51.0" y="1005.7399999999999" font-family='"Liberation Sans", sans-serif' font-size="8.8" font-weight="normal" text-anchor="end" fill="#1a1a1a" class="t" >0.4</text>
<text x="51.0" y="1060.22" font-family='"Liberation Sans", sans-serif' font-size="8.8" font-weight="normal" text-anchor="end" fill="#1a1a1a" class="t" >0.2</text>
<text x="51.0" y="1114.7" font-family='"Liberation Sans", sans-serif' font-size="8.8" font-weight="normal" text-anchor="end" fill="#1a1a1a" class="t" >0</text>
<text x="154.21" y="1133.8" font-family='"Liberation Sans", sans-serif' font-size="9.6" font-weight="normal" text-anchor="middle" fill="#1a1a1a" class="t" >6</text>
<path d="M240.47,1133.80 V1127.20 L238.57,1128.90" stroke="#1a1a1a" stroke-width="1.2" fill="none" stroke-linejoin="bevel" stroke-linecap="butt"/>
<text x="242.97" y="1133.8" font-family='"Liberation Sans", sans-serif' font-size="10" font-weight="normal" fill="#1a1a1a" textLength="5.01" lengthAdjust="spacingAndGlyphs" class="t" >2</text>
<path d="M328.73,1133.80 V1127.20 L326.83,1128.90" stroke="#1a1a1a" stroke-width="1.2" fill="none" stroke-linejoin="bevel" stroke-linecap="butt"/>
<text x="331.23" y="1133.8" font-family='"Liberation Sans", sans-serif' font-size="10" font-weight="normal" fill="#1a1a1a" textLength="5.01" lengthAdjust="spacingAndGlyphs" class="t" >8</text>
<text x="418.99" y="1133.8" font-family='"Liberation Sans", sans-serif' font-size="9.6" font-weight="normal" text-anchor="middle" fill="#1a1a1a" class="t" >24</text>
<text x="507.25" y="1133.8" font-family='"Liberation Sans", sans-serif' font-size="9.6" font-weight="normal" text-anchor="middle" fill="#1a1a1a" class="t" >30</text>
<g transform="translate(22.7,1025.8) rotate(-90)"><text x="0.00" y="0" font-family='"Liberation Sans", sans-serif' font-size="10.8" font-weight="normal" fill="#000" textLength="101.69" lengthAdjust="spacing" class="h" >Survival Probability</text></g>
<text x="246.90" y="1151.9" font-family='"Liberation Sans", sans-serif' font-size="11.2" font-weight="bold" fill="#2a2a2a" textLength="79.40" lengthAdjust="spacingAndGlyphs" class="b" >PFS (months)</text>
<text x="68.75" y="1108.1" font-family='"Liberation Sans", sans-serif' font-size="8.6" font-weight="normal" fill="#000" textLength="80.51" lengthAdjust="spacingAndGlyphs" class="t" >Logrank p=0.0144</text>
<text x="324.00" y="1072.5" font-family='"Liberation Sans", sans-serif' font-size="9.2" font-weight="normal" fill="#000" textLength="175.70" lengthAdjust="spacingAndGlyphs" class="t" >1 - PET2-/Delta SUV max PET0-2&lt;=66%</text>
<text x="322.80" y="1084.2" font-family='"Liberation Sans", sans-serif' font-size="9.2" font-weight="normal" fill="#000" textLength="170.71" lengthAdjust="spacingAndGlyphs" class="t" >2 - PET2-/Delta SUV max PET0-2&gt;66%</text>
<text x="322.80" y="1096.0" font-family='"Liberation Sans", sans-serif' font-size="9.2" font-weight="normal" fill="#000" textLength="179.21" lengthAdjust="spacingAndGlyphs" class="t" >3 - PET2+/Delta SUV max PET0-2&lt;=66%</text>
<text x="322.30" y="1107.8" font-family='"Liberation Sans", sans-serif' font-size="9.2" font-weight="normal" fill="#000" textLength="173.52" lengthAdjust="spacingAndGlyphs" class="t" >4 - PET2+/Delta SUV max PET0-2&gt;66%</text>
</g>
</svg></div>
</body></html>
